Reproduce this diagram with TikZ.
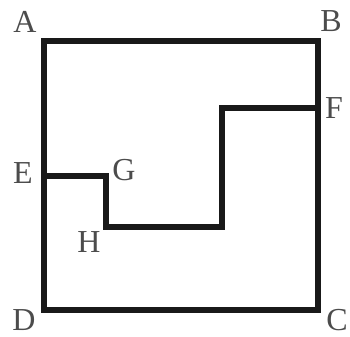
\documentclass[tikz,border=0pt]{standalone}
\usepackage{fontspec}
\setmainfont{Liberation Serif}
\tikzset{edge/.style={line width=4pt,black!90,line join=miter,line cap=rect},lab/.style={font=\fontsize{24pt}{24pt}\selectfont,text=black!70,inner sep=0pt}}
\begin{document}
\begin{tikzpicture}[x=0.75pt,y=-0.75pt]
\useasboundingbox (0,0) rectangle (350,336);
\coordinate (a) at (44,41);\coordinate (b) at (318,41);\coordinate (c) at (318,310);\coordinate (d) at (44,310);
\coordinate (e) at (44,176);\coordinate (g) at (106,176);\coordinate (h) at (106,227);\coordinate (i) at (222,227);\coordinate (j) at (222,108);\coordinate (f) at (318,108);
\draw[edge] (a)--(b)--(c)--(d)--cycle;
\draw[edge,line cap=butt] (e)--(g)--(h)--(i)--(j)--(f);
\node[lab] (A) at (25,22) {A};
\node[lab] (B) at (331,21) {B};
\node[lab] (C) at (337,320) {C};
\node[lab] (D) at (24,320) {D};
\node[lab] (E) at (23,173) {E};
\node[lab] (F) at (334,108) {F};
\node[lab] (G) at (124,170) {G};
\node[lab] (H) at (89,242) {H};
\end{tikzpicture}
\end{document}
